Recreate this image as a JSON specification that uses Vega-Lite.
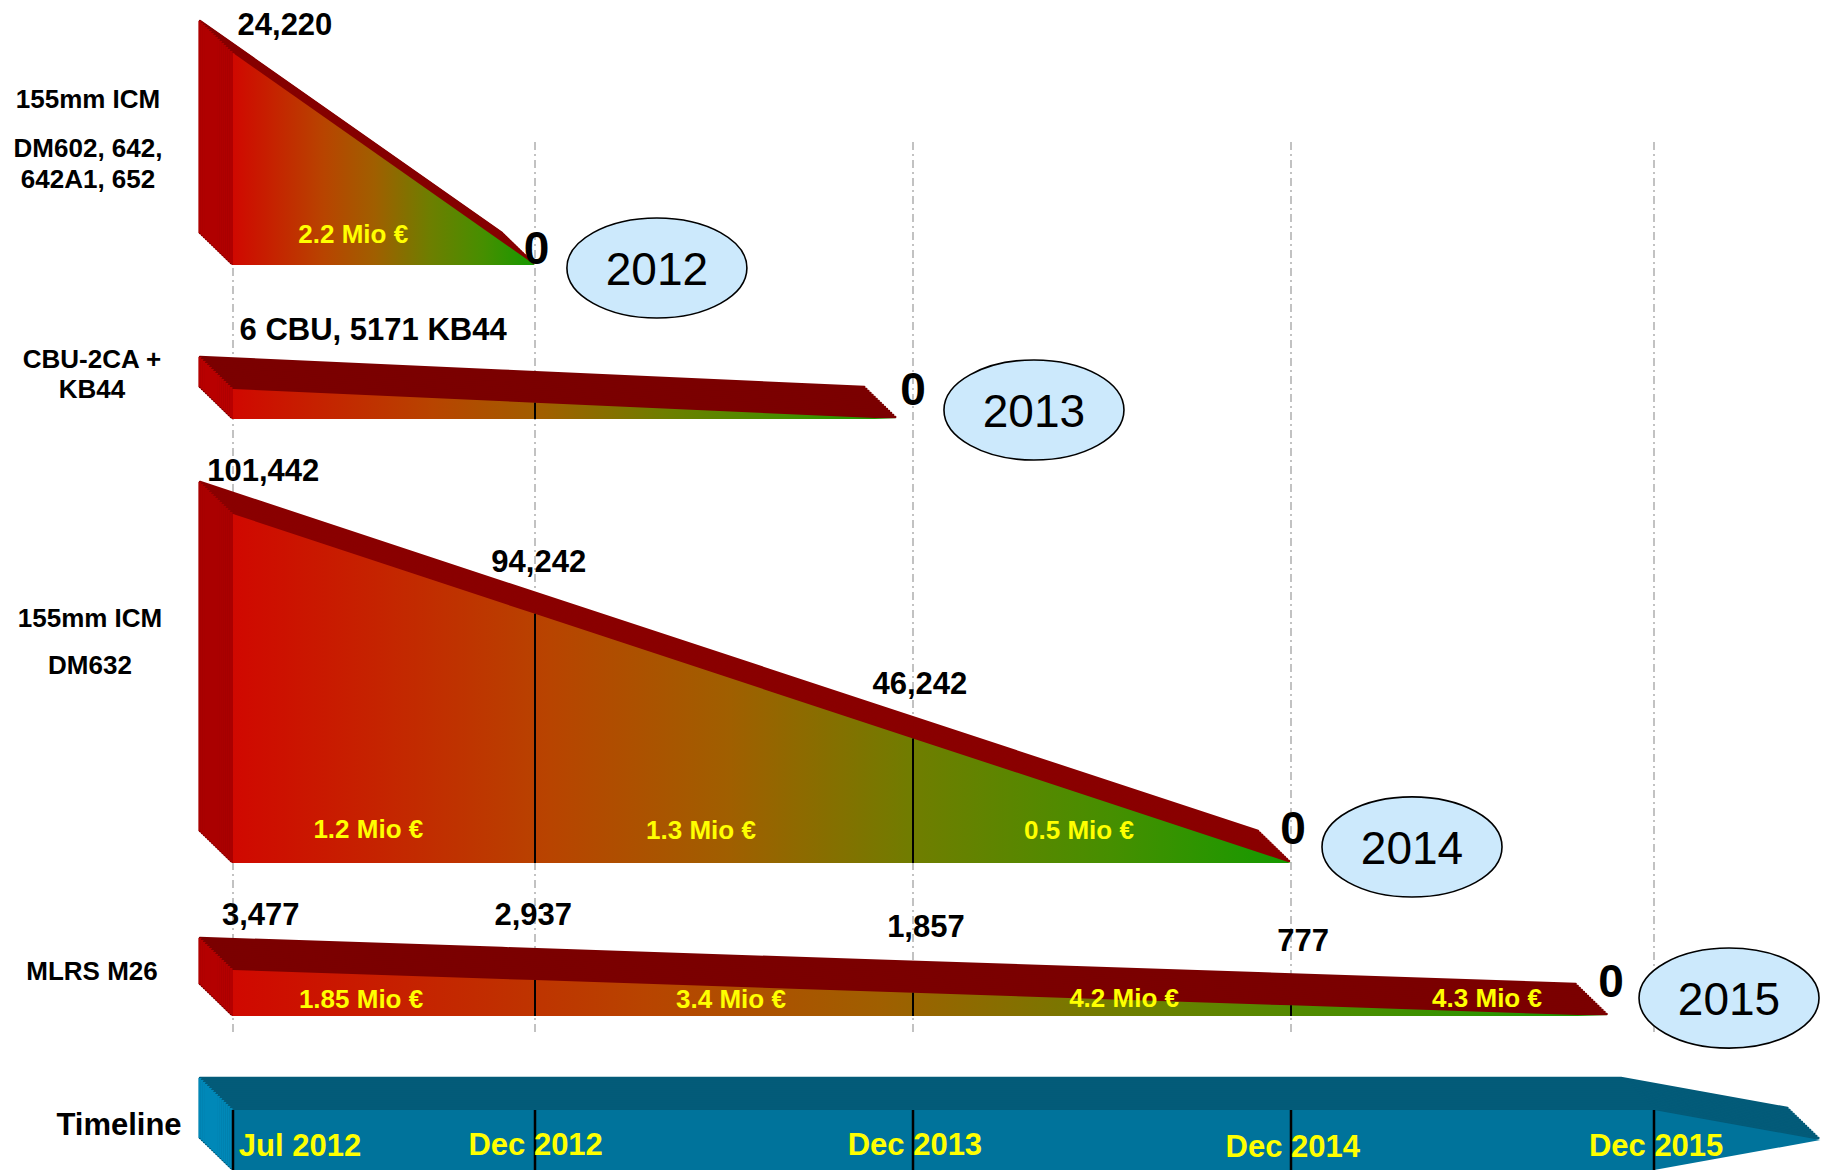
{
"$schema":"https://vega.github.io/schema/vega-lite/v6.json",
"width":1825,"height":1175,"autosize":{"type":"none"},"padding":0,"background":"white",
"config":{"view":{"stroke":null}},
"datasets":{
"guides":[{"month":0},{"month":5},{"month":17},{"month":29},{"month":41}],
"shapes":[
{"panel":"p1","month":0,"level":1,"low":0},{"panel":"p1","month":5,"level":0,"low":0},
{"panel":"p2","month":0,"level":1,"low":0},{"panel":"p2","month":5,"level":0.545,"low":0},{"panel":"p2","month":16.5,"level":0,"low":0},
{"panel":"p3","month":0,"level":1,"low":0},{"panel":"p3","month":5,"level":0.714,"low":0},{"panel":"p3","month":17,"level":0.357,"low":0},{"panel":"p3","month":29,"level":0,"low":0},
{"panel":"p4","month":0,"level":1,"low":0},{"panel":"p4","month":5,"level":0.78,"low":0},{"panel":"p4","month":17,"level":0.505,"low":0},{"panel":"p4","month":29,"level":0.231,"low":0},{"panel":"p4","month":39.5,"level":0,"low":0},
{"panel":"tl","month":0,"level":1,"low":0},{"panel":"tl","month":5,"level":1,"low":0},{"panel":"tl","month":17,"level":1,"low":0},{"panel":"tl","month":29,"level":1,"low":0},{"panel":"tl","month":41,"level":1,"low":0},{"panel":"tl","month":46.5,"level":0.5,"low":0.5}
],
"notes":[
{"panel":"p1","kind":"stock","month":0.86,"level":1.142,"label":"24,220"},
{"panel":"p1","kind":"zero","month":5.05,"level":0.085,"label":"0"},
{"panel":"p1","kind":"money","month":1.99,"level":0.151,"label":"2.2 Mio €"},
{"panel":"p1","kind":"year","month":8.87,"level":-0.014,"label":"2012"},
{"panel":"p1","kind":"name","month":0,"level":0.788,"label":"155mm ICM"},
{"panel":"p1","kind":"name","month":0,"level":0.557,"label":"DM602, 642,"},
{"panel":"p1","kind":"name","month":0,"level":0.41,"label":"642A1, 652"},
{"panel":"p2","kind":"stock","month":2.32,"level":3.03,"label":"6 CBU, 5171 KB44"},
{"panel":"p2","kind":"zero","month":17.0,"level":1.03,"label":"0"},
{"panel":"p2","kind":"year","month":20.84,"level":0.3,"label":"2013"},
{"panel":"p2","kind":"name","month":0,"level":2.03,"label":"CBU-2CA +"},
{"panel":"p2","kind":"name","month":0,"level":1.03,"label":"KB44"},
{"panel":"p3","kind":"stock","month":0.5,"level":1.129,"label":"101,442"},
{"panel":"p3","kind":"stock","month":5.12,"level":0.868,"label":"94,242"},
{"panel":"p3","kind":"stock","month":17.22,"level":0.519,"label":"46,242"},
{"panel":"p3","kind":"zero","month":29.07,"level":0.103,"label":"0"},
{"panel":"p3","kind":"year","month":33.0,"level":0.046,"label":"2014"},
{"panel":"p3","kind":"money","month":2.24,"level":0.1,"label":"1.2 Mio €"},
{"panel":"p3","kind":"money","month":10.27,"level":0.097,"label":"1.3 Mio €"},
{"panel":"p3","kind":"money","month":22.27,"level":0.097,"label":"0.5 Mio €"},
{"panel":"p3","kind":"name","month":0,"level":0.705,"label":"155mm ICM"},
{"panel":"p3","kind":"name","month":0,"level":0.57,"label":"DM632"},
{"panel":"p4","kind":"stock","month":0.46,"level":2.24,"label":"3,477"},
{"panel":"p4","kind":"stock","month":4.97,"level":2.24,"label":"2,937"},
{"panel":"p4","kind":"stock","month":17.41,"level":1.98,"label":"1,857"},
{"panel":"p4","kind":"stock","month":29.4,"level":1.67,"label":"777"},
{"panel":"p4","kind":"zero","month":39.58,"level":0.78,"label":"0"},
{"panel":"p4","kind":"year","month":43.48,"level":0.39,"label":"2015"},
{"panel":"p4","kind":"money","month":2.12,"level":0.39,"label":"1.85 Mio €"},
{"panel":"p4","kind":"money","month":11.22,"level":0.39,"label":"3.4 Mio €"},
{"panel":"p4","kind":"money","month":23.7,"level":0.41,"label":"4.2 Mio €"},
{"panel":"p4","kind":"money","month":35.48,"level":0.41,"label":"4.3 Mio €"},
{"panel":"p4","kind":"name","month":0,"level":1.0,"label":"MLRS M26"},
{"panel":"tl","kind":"tname","month":0,"level":0.78,"label":"Timeline"},
{"panel":"tl","kind":"date","month":1.11,"level":0.43,"label":"Jul 2012"},
{"panel":"tl","kind":"date","month":5.02,"level":0.45,"label":"Dec 2012"},
{"panel":"tl","kind":"date","month":17.06,"level":0.45,"label":"Dec 2013"},
{"panel":"tl","kind":"date","month":29.06,"level":0.41,"label":"Dec 2014"},
{"panel":"tl","kind":"date","month":41.07,"level":0.43,"label":"Dec 2015"}
]
},
"encoding":{"x":{"field":"month","type":"quantitative","scale":{"type":"linear","domain":[0,5,17,29,41],"range":[233,535,913,1291,1654],"nice":false,"zero":false},"axis":null}},
"resolve":{"scale":{"y":"independent"}},
"layer":[
{"data":{"name":"guides"},
 "mark":{"type":"rule","color":"#9a9a9a","strokeWidth":1.2,"strokeDash":[8,4,2,4]},
 "encoding":{"y":{"datum":1,"type":"quantitative","scale":{"domain":[0,1],"range":[1032,142]},"axis":null},"y2":{"datum":0}}},

{"encoding":{"y":{"field":"level","type":"quantitative","scale":{"domain":[0,1],"range":[265,53]},"axis":null}},
 "layer":[
 {"data":{"name":"shapes"},"transform":[{"filter":"datum.panel == 'p1'"}],"encoding":{"y2":{"field":"low"}},
  "layer":[
  {"mark":{"type":"area","color":"#860000","stroke":"#860000","strokeWidth":2.5,"strokeJoin":"round","xOffset":-33,"yOffset":-32,"y2Offset":-32}},
  {"transform":[{"filter":"datum.month == 0"}],"mark":{"type":"rule","color":"#b00000","strokeWidth":3,"xOffset":-33,"yOffset":-32,"y2Offset":-32}},
  {"mark":{"type":"area","color":"#860000","stroke":"#860000","strokeWidth":2.5,"strokeJoin":"round","xOffset":-30.94,"yOffset":-30,"y2Offset":-30}},
  {"transform":[{"filter":"datum.month == 0"}],"mark":{"type":"rule","color":"#b00000","strokeWidth":3,"xOffset":-30.94,"yOffset":-30,"y2Offset":-30}},
  {"mark":{"type":"area","color":"#860000","stroke":"#860000","strokeWidth":2.5,"strokeJoin":"round","xOffset":-28.88,"yOffset":-28,"y2Offset":-28}},
  {"transform":[{"filter":"datum.month == 0"}],"mark":{"type":"rule","color":"#b00000","strokeWidth":3,"xOffset":-28.88,"yOffset":-28,"y2Offset":-28}},
  {"mark":{"type":"area","color":"#860000","stroke":"#860000","strokeWidth":2.5,"strokeJoin":"round","xOffset":-26.81,"yOffset":-26,"y2Offset":-26}},
  {"transform":[{"filter":"datum.month == 0"}],"mark":{"type":"rule","color":"#b00000","strokeWidth":3,"xOffset":-26.81,"yOffset":-26,"y2Offset":-26}},
  {"mark":{"type":"area","color":"#860000","stroke":"#860000","strokeWidth":2.5,"strokeJoin":"round","xOffset":-24.75,"yOffset":-24,"y2Offset":-24}},
  {"transform":[{"filter":"datum.month == 0"}],"mark":{"type":"rule","color":"#b00000","strokeWidth":3,"xOffset":-24.75,"yOffset":-24,"y2Offset":-24}},
  {"mark":{"type":"area","color":"#860000","stroke":"#860000","strokeWidth":2.5,"strokeJoin":"round","xOffset":-22.69,"yOffset":-22,"y2Offset":-22}},
  {"transform":[{"filter":"datum.month == 0"}],"mark":{"type":"rule","color":"#b00000","strokeWidth":3,"xOffset":-22.69,"yOffset":-22,"y2Offset":-22}},
  {"mark":{"type":"area","color":"#860000","stroke":"#860000","strokeWidth":2.5,"strokeJoin":"round","xOffset":-20.63,"yOffset":-20,"y2Offset":-20}},
  {"transform":[{"filter":"datum.month == 0"}],"mark":{"type":"rule","color":"#b00000","strokeWidth":3,"xOffset":-20.63,"yOffset":-20,"y2Offset":-20}},
  {"mark":{"type":"area","color":"#860000","stroke":"#860000","strokeWidth":2.5,"strokeJoin":"round","xOffset":-18.56,"yOffset":-18,"y2Offset":-18}},
  {"transform":[{"filter":"datum.month == 0"}],"mark":{"type":"rule","color":"#b00000","strokeWidth":3,"xOffset":-18.56,"yOffset":-18,"y2Offset":-18}},
  {"mark":{"type":"area","color":"#860000","stroke":"#860000","strokeWidth":2.5,"strokeJoin":"round","xOffset":-16.5,"yOffset":-16,"y2Offset":-16}},
  {"transform":[{"filter":"datum.month == 0"}],"mark":{"type":"rule","color":"#b00000","strokeWidth":3,"xOffset":-16.5,"yOffset":-16,"y2Offset":-16}},
  {"mark":{"type":"area","color":"#860000","stroke":"#860000","strokeWidth":2.5,"strokeJoin":"round","xOffset":-14.44,"yOffset":-14,"y2Offset":-14}},
  {"transform":[{"filter":"datum.month == 0"}],"mark":{"type":"rule","color":"#b00000","strokeWidth":3,"xOffset":-14.44,"yOffset":-14,"y2Offset":-14}},
  {"mark":{"type":"area","color":"#860000","stroke":"#860000","strokeWidth":2.5,"strokeJoin":"round","xOffset":-12.38,"yOffset":-12,"y2Offset":-12}},
  {"transform":[{"filter":"datum.month == 0"}],"mark":{"type":"rule","color":"#b00000","strokeWidth":3,"xOffset":-12.38,"yOffset":-12,"y2Offset":-12}},
  {"mark":{"type":"area","color":"#860000","stroke":"#860000","strokeWidth":2.5,"strokeJoin":"round","xOffset":-10.31,"yOffset":-10,"y2Offset":-10}},
  {"transform":[{"filter":"datum.month == 0"}],"mark":{"type":"rule","color":"#b00000","strokeWidth":3,"xOffset":-10.31,"yOffset":-10,"y2Offset":-10}},
  {"mark":{"type":"area","color":"#860000","stroke":"#860000","strokeWidth":2.5,"strokeJoin":"round","xOffset":-8.25,"yOffset":-8,"y2Offset":-8}},
  {"transform":[{"filter":"datum.month == 0"}],"mark":{"type":"rule","color":"#b00000","strokeWidth":3,"xOffset":-8.25,"yOffset":-8,"y2Offset":-8}},
  {"mark":{"type":"area","color":"#860000","stroke":"#860000","strokeWidth":2.5,"strokeJoin":"round","xOffset":-6.19,"yOffset":-6,"y2Offset":-6}},
  {"transform":[{"filter":"datum.month == 0"}],"mark":{"type":"rule","color":"#b00000","strokeWidth":3,"xOffset":-6.19,"yOffset":-6,"y2Offset":-6}},
  {"mark":{"type":"area","color":"#860000","stroke":"#860000","strokeWidth":2.5,"strokeJoin":"round","xOffset":-4.13,"yOffset":-4,"y2Offset":-4}},
  {"transform":[{"filter":"datum.month == 0"}],"mark":{"type":"rule","color":"#b00000","strokeWidth":3,"xOffset":-4.13,"yOffset":-4,"y2Offset":-4}},
  {"mark":{"type":"area","color":"#860000","stroke":"#860000","strokeWidth":2.5,"strokeJoin":"round","xOffset":-2.06,"yOffset":-2,"y2Offset":-2}},
  {"transform":[{"filter":"datum.month == 0"}],"mark":{"type":"rule","color":"#b00000","strokeWidth":3,"xOffset":-2.06,"yOffset":-2,"y2Offset":-2}},
  {"transform":[{"filter":"datum.month == 0"}],"mark":{"type":"rule","color":"#b00000","strokeWidth":3}},
  {"mark":{"type":"area","color":{"gradient":"linear","x1":0,"y1":0,"x2":1,"y2":0,"stops":[{"offset":0,"color":"#d00800"},{"offset":0.3,"color":"#b84400"},{"offset":0.47,"color":"#a05f00"},{"offset":0.65,"color":"#6e7e00"},{"offset":0.83,"color":"#468f00"},{"offset":1,"color":"#149a00"}]}}},
  {"transform":[{"filter":"datum.level > datum.low && (datum.month > 0 || datum.panel == 'tl')"}],"mark":{"type":"rule","color":"black","strokeWidth":2}}
  ]},
 {"data":{"name":"notes"},"transform":[{"filter":"datum.panel == 'p1'"}],
  "layer":[
  {"transform":[{"filter":"datum.kind == 'stock'"}],"mark":{"type":"text","font":"Liberation Sans","fontWeight":"bold","fontSize":31,"color":"black","dy":3},"encoding":{"text":{"field":"label"}}},
  {"transform":[{"filter":"datum.kind == 'zero'"}],"mark":{"type":"text","font":"Liberation Sans","fontWeight":"bold","fontSize":46,"color":"black","dy":3},"encoding":{"text":{"field":"label"}}},
  {"transform":[{"filter":"datum.kind == 'money'"}],"mark":{"type":"text","font":"Liberation Sans","fontWeight":"bold","fontSize":26,"color":"#ffff00","dy":2},"encoding":{"text":{"field":"label"}}},
  {"transform":[{"filter":"datum.kind == 'year'"}],"mark":{"type":"point","shape":"M-1,0A1,0.556,0,1,1,1,0A1,0.556,0,1,1,-1,0Z","size":32400,"filled":true,"fill":"#cce9fc","stroke":"black","strokeWidth":1.6,"opacity":1}},
  {"transform":[{"filter":"datum.kind == 'year'"}],"mark":{"type":"text","font":"Liberation Sans","fontSize":46,"color":"black","dy":3},"encoding":{"text":{"field":"label"}}},
  {"transform":[{"filter":"datum.kind == 'name'"}],"mark":{"type":"text","font":"Liberation Sans","fontWeight":"bold","fontSize":26,"color":"black","dx":-145,"dy":2},"encoding":{"text":{"field":"label"}}}
  ]}
 ]},

{"encoding":{"y":{"field":"level","type":"quantitative","scale":{"domain":[0,1],"range":[419,389]},"axis":null}},
 "layer":[
 {"data":{"name":"shapes"},"transform":[{"filter":"datum.panel == 'p2'"}],"encoding":{"y2":{"field":"low"}},
  "layer":[
  {"mark":{"type":"area","color":"#7b0000","stroke":"#7b0000","strokeWidth":2.5,"strokeJoin":"round","xOffset":-33,"yOffset":-32,"y2Offset":-32}},
  {"transform":[{"filter":"datum.month == 0"}],"mark":{"type":"rule","color":"#b80000","strokeWidth":3,"xOffset":-33,"yOffset":-32,"y2Offset":-32}},
  {"mark":{"type":"area","color":"#7b0000","stroke":"#7b0000","strokeWidth":2.5,"strokeJoin":"round","xOffset":-30.94,"yOffset":-30,"y2Offset":-30}},
  {"transform":[{"filter":"datum.month == 0"}],"mark":{"type":"rule","color":"#b80000","strokeWidth":3,"xOffset":-30.94,"yOffset":-30,"y2Offset":-30}},
  {"mark":{"type":"area","color":"#7b0000","stroke":"#7b0000","strokeWidth":2.5,"strokeJoin":"round","xOffset":-28.88,"yOffset":-28,"y2Offset":-28}},
  {"transform":[{"filter":"datum.month == 0"}],"mark":{"type":"rule","color":"#b80000","strokeWidth":3,"xOffset":-28.88,"yOffset":-28,"y2Offset":-28}},
  {"mark":{"type":"area","color":"#7b0000","stroke":"#7b0000","strokeWidth":2.5,"strokeJoin":"round","xOffset":-26.81,"yOffset":-26,"y2Offset":-26}},
  {"transform":[{"filter":"datum.month == 0"}],"mark":{"type":"rule","color":"#b80000","strokeWidth":3,"xOffset":-26.81,"yOffset":-26,"y2Offset":-26}},
  {"mark":{"type":"area","color":"#7b0000","stroke":"#7b0000","strokeWidth":2.5,"strokeJoin":"round","xOffset":-24.75,"yOffset":-24,"y2Offset":-24}},
  {"transform":[{"filter":"datum.month == 0"}],"mark":{"type":"rule","color":"#b80000","strokeWidth":3,"xOffset":-24.75,"yOffset":-24,"y2Offset":-24}},
  {"mark":{"type":"area","color":"#7b0000","stroke":"#7b0000","strokeWidth":2.5,"strokeJoin":"round","xOffset":-22.69,"yOffset":-22,"y2Offset":-22}},
  {"transform":[{"filter":"datum.month == 0"}],"mark":{"type":"rule","color":"#b80000","strokeWidth":3,"xOffset":-22.69,"yOffset":-22,"y2Offset":-22}},
  {"mark":{"type":"area","color":"#7b0000","stroke":"#7b0000","strokeWidth":2.5,"strokeJoin":"round","xOffset":-20.63,"yOffset":-20,"y2Offset":-20}},
  {"transform":[{"filter":"datum.month == 0"}],"mark":{"type":"rule","color":"#b80000","strokeWidth":3,"xOffset":-20.63,"yOffset":-20,"y2Offset":-20}},
  {"mark":{"type":"area","color":"#7b0000","stroke":"#7b0000","strokeWidth":2.5,"strokeJoin":"round","xOffset":-18.56,"yOffset":-18,"y2Offset":-18}},
  {"transform":[{"filter":"datum.month == 0"}],"mark":{"type":"rule","color":"#b80000","strokeWidth":3,"xOffset":-18.56,"yOffset":-18,"y2Offset":-18}},
  {"mark":{"type":"area","color":"#7b0000","stroke":"#7b0000","strokeWidth":2.5,"strokeJoin":"round","xOffset":-16.5,"yOffset":-16,"y2Offset":-16}},
  {"transform":[{"filter":"datum.month == 0"}],"mark":{"type":"rule","color":"#b80000","strokeWidth":3,"xOffset":-16.5,"yOffset":-16,"y2Offset":-16}},
  {"mark":{"type":"area","color":"#7b0000","stroke":"#7b0000","strokeWidth":2.5,"strokeJoin":"round","xOffset":-14.44,"yOffset":-14,"y2Offset":-14}},
  {"transform":[{"filter":"datum.month == 0"}],"mark":{"type":"rule","color":"#b80000","strokeWidth":3,"xOffset":-14.44,"yOffset":-14,"y2Offset":-14}},
  {"mark":{"type":"area","color":"#7b0000","stroke":"#7b0000","strokeWidth":2.5,"strokeJoin":"round","xOffset":-12.38,"yOffset":-12,"y2Offset":-12}},
  {"transform":[{"filter":"datum.month == 0"}],"mark":{"type":"rule","color":"#b80000","strokeWidth":3,"xOffset":-12.38,"yOffset":-12,"y2Offset":-12}},
  {"mark":{"type":"area","color":"#7b0000","stroke":"#7b0000","strokeWidth":2.5,"strokeJoin":"round","xOffset":-10.31,"yOffset":-10,"y2Offset":-10}},
  {"transform":[{"filter":"datum.month == 0"}],"mark":{"type":"rule","color":"#b80000","strokeWidth":3,"xOffset":-10.31,"yOffset":-10,"y2Offset":-10}},
  {"mark":{"type":"area","color":"#7b0000","stroke":"#7b0000","strokeWidth":2.5,"strokeJoin":"round","xOffset":-8.25,"yOffset":-8,"y2Offset":-8}},
  {"transform":[{"filter":"datum.month == 0"}],"mark":{"type":"rule","color":"#b80000","strokeWidth":3,"xOffset":-8.25,"yOffset":-8,"y2Offset":-8}},
  {"mark":{"type":"area","color":"#7b0000","stroke":"#7b0000","strokeWidth":2.5,"strokeJoin":"round","xOffset":-6.19,"yOffset":-6,"y2Offset":-6}},
  {"transform":[{"filter":"datum.month == 0"}],"mark":{"type":"rule","color":"#b80000","strokeWidth":3,"xOffset":-6.19,"yOffset":-6,"y2Offset":-6}},
  {"mark":{"type":"area","color":"#7b0000","stroke":"#7b0000","strokeWidth":2.5,"strokeJoin":"round","xOffset":-4.13,"yOffset":-4,"y2Offset":-4}},
  {"transform":[{"filter":"datum.month == 0"}],"mark":{"type":"rule","color":"#b80000","strokeWidth":3,"xOffset":-4.13,"yOffset":-4,"y2Offset":-4}},
  {"mark":{"type":"area","color":"#7b0000","stroke":"#7b0000","strokeWidth":2.5,"strokeJoin":"round","xOffset":-2.06,"yOffset":-2,"y2Offset":-2}},
  {"transform":[{"filter":"datum.month == 0"}],"mark":{"type":"rule","color":"#b80000","strokeWidth":3,"xOffset":-2.06,"yOffset":-2,"y2Offset":-2}},
  {"transform":[{"filter":"datum.month == 0"}],"mark":{"type":"rule","color":"#b80000","strokeWidth":3}},
  {"mark":{"type":"area","color":{"gradient":"linear","x1":0,"y1":0,"x2":1,"y2":0,"stops":[{"offset":0,"color":"#d00800"},{"offset":0.3,"color":"#b84400"},{"offset":0.47,"color":"#a05f00"},{"offset":0.65,"color":"#6e7e00"},{"offset":0.83,"color":"#468f00"},{"offset":1,"color":"#149a00"}]}}},
  {"transform":[{"filter":"datum.level > datum.low && (datum.month > 0 || datum.panel == 'tl')"}],"mark":{"type":"rule","color":"black","strokeWidth":2}}
  ]},
 {"data":{"name":"notes"},"transform":[{"filter":"datum.panel == 'p2'"}],
  "layer":[
  {"transform":[{"filter":"datum.kind == 'stock'"}],"mark":{"type":"text","font":"Liberation Sans","fontWeight":"bold","fontSize":31,"color":"black","dy":3},"encoding":{"text":{"field":"label"}}},
  {"transform":[{"filter":"datum.kind == 'zero'"}],"mark":{"type":"text","font":"Liberation Sans","fontWeight":"bold","fontSize":46,"color":"black","dy":3},"encoding":{"text":{"field":"label"}}},
  {"transform":[{"filter":"datum.kind == 'year'"}],"mark":{"type":"point","shape":"M-1,0A1,0.556,0,1,1,1,0A1,0.556,0,1,1,-1,0Z","size":32400,"filled":true,"fill":"#cce9fc","stroke":"black","strokeWidth":1.6,"opacity":1}},
  {"transform":[{"filter":"datum.kind == 'year'"}],"mark":{"type":"text","font":"Liberation Sans","fontSize":46,"color":"black","dy":3},"encoding":{"text":{"field":"label"}}},
  {"transform":[{"filter":"datum.kind == 'name'"}],"mark":{"type":"text","font":"Liberation Sans","fontWeight":"bold","fontSize":26,"color":"black","dx":-141,"dy":2},"encoding":{"text":{"field":"label"}}}
  ]}
 ]},

{"encoding":{"y":{"field":"level","type":"quantitative","scale":{"domain":[0,1],"range":[863,514]},"axis":null}},
 "layer":[
 {"data":{"name":"shapes"},"transform":[{"filter":"datum.panel == 'p3'"}],"encoding":{"y2":{"field":"low"}},
  "layer":[
  {"mark":{"type":"area","color":"#8a0000","stroke":"#8a0000","strokeWidth":2.5,"strokeJoin":"round","xOffset":-33,"yOffset":-32,"y2Offset":-32}},
  {"transform":[{"filter":"datum.month == 0"}],"mark":{"type":"rule","color":"#aa0000","strokeWidth":3,"xOffset":-33,"yOffset":-32,"y2Offset":-32}},
  {"mark":{"type":"area","color":"#8a0000","stroke":"#8a0000","strokeWidth":2.5,"strokeJoin":"round","xOffset":-30.94,"yOffset":-30,"y2Offset":-30}},
  {"transform":[{"filter":"datum.month == 0"}],"mark":{"type":"rule","color":"#aa0000","strokeWidth":3,"xOffset":-30.94,"yOffset":-30,"y2Offset":-30}},
  {"mark":{"type":"area","color":"#8a0000","stroke":"#8a0000","strokeWidth":2.5,"strokeJoin":"round","xOffset":-28.88,"yOffset":-28,"y2Offset":-28}},
  {"transform":[{"filter":"datum.month == 0"}],"mark":{"type":"rule","color":"#aa0000","strokeWidth":3,"xOffset":-28.88,"yOffset":-28,"y2Offset":-28}},
  {"mark":{"type":"area","color":"#8a0000","stroke":"#8a0000","strokeWidth":2.5,"strokeJoin":"round","xOffset":-26.81,"yOffset":-26,"y2Offset":-26}},
  {"transform":[{"filter":"datum.month == 0"}],"mark":{"type":"rule","color":"#aa0000","strokeWidth":3,"xOffset":-26.81,"yOffset":-26,"y2Offset":-26}},
  {"mark":{"type":"area","color":"#8a0000","stroke":"#8a0000","strokeWidth":2.5,"strokeJoin":"round","xOffset":-24.75,"yOffset":-24,"y2Offset":-24}},
  {"transform":[{"filter":"datum.month == 0"}],"mark":{"type":"rule","color":"#aa0000","strokeWidth":3,"xOffset":-24.75,"yOffset":-24,"y2Offset":-24}},
  {"mark":{"type":"area","color":"#8a0000","stroke":"#8a0000","strokeWidth":2.5,"strokeJoin":"round","xOffset":-22.69,"yOffset":-22,"y2Offset":-22}},
  {"transform":[{"filter":"datum.month == 0"}],"mark":{"type":"rule","color":"#aa0000","strokeWidth":3,"xOffset":-22.69,"yOffset":-22,"y2Offset":-22}},
  {"mark":{"type":"area","color":"#8a0000","stroke":"#8a0000","strokeWidth":2.5,"strokeJoin":"round","xOffset":-20.63,"yOffset":-20,"y2Offset":-20}},
  {"transform":[{"filter":"datum.month == 0"}],"mark":{"type":"rule","color":"#aa0000","strokeWidth":3,"xOffset":-20.63,"yOffset":-20,"y2Offset":-20}},
  {"mark":{"type":"area","color":"#8a0000","stroke":"#8a0000","strokeWidth":2.5,"strokeJoin":"round","xOffset":-18.56,"yOffset":-18,"y2Offset":-18}},
  {"transform":[{"filter":"datum.month == 0"}],"mark":{"type":"rule","color":"#aa0000","strokeWidth":3,"xOffset":-18.56,"yOffset":-18,"y2Offset":-18}},
  {"mark":{"type":"area","color":"#8a0000","stroke":"#8a0000","strokeWidth":2.5,"strokeJoin":"round","xOffset":-16.5,"yOffset":-16,"y2Offset":-16}},
  {"transform":[{"filter":"datum.month == 0"}],"mark":{"type":"rule","color":"#aa0000","strokeWidth":3,"xOffset":-16.5,"yOffset":-16,"y2Offset":-16}},
  {"mark":{"type":"area","color":"#8a0000","stroke":"#8a0000","strokeWidth":2.5,"strokeJoin":"round","xOffset":-14.44,"yOffset":-14,"y2Offset":-14}},
  {"transform":[{"filter":"datum.month == 0"}],"mark":{"type":"rule","color":"#aa0000","strokeWidth":3,"xOffset":-14.44,"yOffset":-14,"y2Offset":-14}},
  {"mark":{"type":"area","color":"#8a0000","stroke":"#8a0000","strokeWidth":2.5,"strokeJoin":"round","xOffset":-12.38,"yOffset":-12,"y2Offset":-12}},
  {"transform":[{"filter":"datum.month == 0"}],"mark":{"type":"rule","color":"#aa0000","strokeWidth":3,"xOffset":-12.38,"yOffset":-12,"y2Offset":-12}},
  {"mark":{"type":"area","color":"#8a0000","stroke":"#8a0000","strokeWidth":2.5,"strokeJoin":"round","xOffset":-10.31,"yOffset":-10,"y2Offset":-10}},
  {"transform":[{"filter":"datum.month == 0"}],"mark":{"type":"rule","color":"#aa0000","strokeWidth":3,"xOffset":-10.31,"yOffset":-10,"y2Offset":-10}},
  {"mark":{"type":"area","color":"#8a0000","stroke":"#8a0000","strokeWidth":2.5,"strokeJoin":"round","xOffset":-8.25,"yOffset":-8,"y2Offset":-8}},
  {"transform":[{"filter":"datum.month == 0"}],"mark":{"type":"rule","color":"#aa0000","strokeWidth":3,"xOffset":-8.25,"yOffset":-8,"y2Offset":-8}},
  {"mark":{"type":"area","color":"#8a0000","stroke":"#8a0000","strokeWidth":2.5,"strokeJoin":"round","xOffset":-6.19,"yOffset":-6,"y2Offset":-6}},
  {"transform":[{"filter":"datum.month == 0"}],"mark":{"type":"rule","color":"#aa0000","strokeWidth":3,"xOffset":-6.19,"yOffset":-6,"y2Offset":-6}},
  {"mark":{"type":"area","color":"#8a0000","stroke":"#8a0000","strokeWidth":2.5,"strokeJoin":"round","xOffset":-4.13,"yOffset":-4,"y2Offset":-4}},
  {"transform":[{"filter":"datum.month == 0"}],"mark":{"type":"rule","color":"#aa0000","strokeWidth":3,"xOffset":-4.13,"yOffset":-4,"y2Offset":-4}},
  {"mark":{"type":"area","color":"#8a0000","stroke":"#8a0000","strokeWidth":2.5,"strokeJoin":"round","xOffset":-2.06,"yOffset":-2,"y2Offset":-2}},
  {"transform":[{"filter":"datum.month == 0"}],"mark":{"type":"rule","color":"#aa0000","strokeWidth":3,"xOffset":-2.06,"yOffset":-2,"y2Offset":-2}},
  {"transform":[{"filter":"datum.month == 0"}],"mark":{"type":"rule","color":"#aa0000","strokeWidth":3}},
  {"mark":{"type":"area","color":{"gradient":"linear","x1":0,"y1":0,"x2":1,"y2":0,"stops":[{"offset":0,"color":"#d00800"},{"offset":0.3,"color":"#b84400"},{"offset":0.47,"color":"#a05f00"},{"offset":0.65,"color":"#6e7e00"},{"offset":0.83,"color":"#468f00"},{"offset":1,"color":"#149a00"}]}}},
  {"transform":[{"filter":"datum.level > datum.low && (datum.month > 0 || datum.panel == 'tl')"}],"mark":{"type":"rule","color":"black","strokeWidth":2}}
  ]},
 {"data":{"name":"notes"},"transform":[{"filter":"datum.panel == 'p3'"}],
  "layer":[
  {"transform":[{"filter":"datum.kind == 'stock'"}],"mark":{"type":"text","font":"Liberation Sans","fontWeight":"bold","fontSize":31,"color":"black","dy":3},"encoding":{"text":{"field":"label"}}},
  {"transform":[{"filter":"datum.kind == 'zero'"}],"mark":{"type":"text","font":"Liberation Sans","fontWeight":"bold","fontSize":46,"color":"black","dy":3},"encoding":{"text":{"field":"label"}}},
  {"transform":[{"filter":"datum.kind == 'money'"}],"mark":{"type":"text","font":"Liberation Sans","fontWeight":"bold","fontSize":26,"color":"#ffff00","dy":2},"encoding":{"text":{"field":"label"}}},
  {"transform":[{"filter":"datum.kind == 'year'"}],"mark":{"type":"point","shape":"M-1,0A1,0.556,0,1,1,1,0A1,0.556,0,1,1,-1,0Z","size":32400,"filled":true,"fill":"#cce9fc","stroke":"black","strokeWidth":1.6,"opacity":1}},
  {"transform":[{"filter":"datum.kind == 'year'"}],"mark":{"type":"text","font":"Liberation Sans","fontSize":46,"color":"black","dy":3},"encoding":{"text":{"field":"label"}}},
  {"transform":[{"filter":"datum.kind == 'name'"}],"mark":{"type":"text","font":"Liberation Sans","fontWeight":"bold","fontSize":26,"color":"black","dx":-143,"dy":2},"encoding":{"text":{"field":"label"}}}
  ]}
 ]},

{"encoding":{"y":{"field":"level","type":"quantitative","scale":{"domain":[0,1],"range":[1016,970]},"axis":null}},
 "layer":[
 {"data":{"name":"shapes"},"transform":[{"filter":"datum.panel == 'p4'"}],"encoding":{"y2":{"field":"low"}},
  "layer":[
  {"mark":{"type":"area","color":"#7b0000","stroke":"#7b0000","strokeWidth":2.5,"strokeJoin":"round","xOffset":-33,"yOffset":-32,"y2Offset":-32}},
  {"transform":[{"filter":"datum.month == 0"}],"mark":{"type":"rule","color":"#b40000","strokeWidth":3,"xOffset":-33,"yOffset":-32,"y2Offset":-32}},
  {"mark":{"type":"area","color":"#7b0000","stroke":"#7b0000","strokeWidth":2.5,"strokeJoin":"round","xOffset":-30.94,"yOffset":-30,"y2Offset":-30}},
  {"transform":[{"filter":"datum.month == 0"}],"mark":{"type":"rule","color":"#b40000","strokeWidth":3,"xOffset":-30.94,"yOffset":-30,"y2Offset":-30}},
  {"mark":{"type":"area","color":"#7b0000","stroke":"#7b0000","strokeWidth":2.5,"strokeJoin":"round","xOffset":-28.88,"yOffset":-28,"y2Offset":-28}},
  {"transform":[{"filter":"datum.month == 0"}],"mark":{"type":"rule","color":"#b40000","strokeWidth":3,"xOffset":-28.88,"yOffset":-28,"y2Offset":-28}},
  {"mark":{"type":"area","color":"#7b0000","stroke":"#7b0000","strokeWidth":2.5,"strokeJoin":"round","xOffset":-26.81,"yOffset":-26,"y2Offset":-26}},
  {"transform":[{"filter":"datum.month == 0"}],"mark":{"type":"rule","color":"#b40000","strokeWidth":3,"xOffset":-26.81,"yOffset":-26,"y2Offset":-26}},
  {"mark":{"type":"area","color":"#7b0000","stroke":"#7b0000","strokeWidth":2.5,"strokeJoin":"round","xOffset":-24.75,"yOffset":-24,"y2Offset":-24}},
  {"transform":[{"filter":"datum.month == 0"}],"mark":{"type":"rule","color":"#b40000","strokeWidth":3,"xOffset":-24.75,"yOffset":-24,"y2Offset":-24}},
  {"mark":{"type":"area","color":"#7b0000","stroke":"#7b0000","strokeWidth":2.5,"strokeJoin":"round","xOffset":-22.69,"yOffset":-22,"y2Offset":-22}},
  {"transform":[{"filter":"datum.month == 0"}],"mark":{"type":"rule","color":"#b40000","strokeWidth":3,"xOffset":-22.69,"yOffset":-22,"y2Offset":-22}},
  {"mark":{"type":"area","color":"#7b0000","stroke":"#7b0000","strokeWidth":2.5,"strokeJoin":"round","xOffset":-20.63,"yOffset":-20,"y2Offset":-20}},
  {"transform":[{"filter":"datum.month == 0"}],"mark":{"type":"rule","color":"#b40000","strokeWidth":3,"xOffset":-20.63,"yOffset":-20,"y2Offset":-20}},
  {"mark":{"type":"area","color":"#7b0000","stroke":"#7b0000","strokeWidth":2.5,"strokeJoin":"round","xOffset":-18.56,"yOffset":-18,"y2Offset":-18}},
  {"transform":[{"filter":"datum.month == 0"}],"mark":{"type":"rule","color":"#b40000","strokeWidth":3,"xOffset":-18.56,"yOffset":-18,"y2Offset":-18}},
  {"mark":{"type":"area","color":"#7b0000","stroke":"#7b0000","strokeWidth":2.5,"strokeJoin":"round","xOffset":-16.5,"yOffset":-16,"y2Offset":-16}},
  {"transform":[{"filter":"datum.month == 0"}],"mark":{"type":"rule","color":"#b40000","strokeWidth":3,"xOffset":-16.5,"yOffset":-16,"y2Offset":-16}},
  {"mark":{"type":"area","color":"#7b0000","stroke":"#7b0000","strokeWidth":2.5,"strokeJoin":"round","xOffset":-14.44,"yOffset":-14,"y2Offset":-14}},
  {"transform":[{"filter":"datum.month == 0"}],"mark":{"type":"rule","color":"#b40000","strokeWidth":3,"xOffset":-14.44,"yOffset":-14,"y2Offset":-14}},
  {"mark":{"type":"area","color":"#7b0000","stroke":"#7b0000","strokeWidth":2.5,"strokeJoin":"round","xOffset":-12.38,"yOffset":-12,"y2Offset":-12}},
  {"transform":[{"filter":"datum.month == 0"}],"mark":{"type":"rule","color":"#b40000","strokeWidth":3,"xOffset":-12.38,"yOffset":-12,"y2Offset":-12}},
  {"mark":{"type":"area","color":"#7b0000","stroke":"#7b0000","strokeWidth":2.5,"strokeJoin":"round","xOffset":-10.31,"yOffset":-10,"y2Offset":-10}},
  {"transform":[{"filter":"datum.month == 0"}],"mark":{"type":"rule","color":"#b40000","strokeWidth":3,"xOffset":-10.31,"yOffset":-10,"y2Offset":-10}},
  {"mark":{"type":"area","color":"#7b0000","stroke":"#7b0000","strokeWidth":2.5,"strokeJoin":"round","xOffset":-8.25,"yOffset":-8,"y2Offset":-8}},
  {"transform":[{"filter":"datum.month == 0"}],"mark":{"type":"rule","color":"#b40000","strokeWidth":3,"xOffset":-8.25,"yOffset":-8,"y2Offset":-8}},
  {"mark":{"type":"area","color":"#7b0000","stroke":"#7b0000","strokeWidth":2.5,"strokeJoin":"round","xOffset":-6.19,"yOffset":-6,"y2Offset":-6}},
  {"transform":[{"filter":"datum.month == 0"}],"mark":{"type":"rule","color":"#b40000","strokeWidth":3,"xOffset":-6.19,"yOffset":-6,"y2Offset":-6}},
  {"mark":{"type":"area","color":"#7b0000","stroke":"#7b0000","strokeWidth":2.5,"strokeJoin":"round","xOffset":-4.13,"yOffset":-4,"y2Offset":-4}},
  {"transform":[{"filter":"datum.month == 0"}],"mark":{"type":"rule","color":"#b40000","strokeWidth":3,"xOffset":-4.13,"yOffset":-4,"y2Offset":-4}},
  {"mark":{"type":"area","color":"#7b0000","stroke":"#7b0000","strokeWidth":2.5,"strokeJoin":"round","xOffset":-2.06,"yOffset":-2,"y2Offset":-2}},
  {"transform":[{"filter":"datum.month == 0"}],"mark":{"type":"rule","color":"#b40000","strokeWidth":3,"xOffset":-2.06,"yOffset":-2,"y2Offset":-2}},
  {"transform":[{"filter":"datum.month == 0"}],"mark":{"type":"rule","color":"#b40000","strokeWidth":3}},
  {"mark":{"type":"area","color":{"gradient":"linear","x1":0,"y1":0,"x2":1,"y2":0,"stops":[{"offset":0,"color":"#d00800"},{"offset":0.3,"color":"#b84400"},{"offset":0.47,"color":"#a05f00"},{"offset":0.65,"color":"#6e7e00"},{"offset":0.83,"color":"#468f00"},{"offset":1,"color":"#149a00"}]}}},
  {"transform":[{"filter":"datum.level > datum.low && (datum.month > 0 || datum.panel == 'tl')"}],"mark":{"type":"rule","color":"black","strokeWidth":2}}
  ]},
 {"data":{"name":"notes"},"transform":[{"filter":"datum.panel == 'p4'"}],
  "layer":[
  {"transform":[{"filter":"datum.kind == 'stock'"}],"mark":{"type":"text","font":"Liberation Sans","fontWeight":"bold","fontSize":31,"color":"black","dy":3},"encoding":{"text":{"field":"label"}}},
  {"transform":[{"filter":"datum.kind == 'zero'"}],"mark":{"type":"text","font":"Liberation Sans","fontWeight":"bold","fontSize":46,"color":"black","dy":3},"encoding":{"text":{"field":"label"}}},
  {"transform":[{"filter":"datum.kind == 'money'"}],"mark":{"type":"text","font":"Liberation Sans","fontWeight":"bold","fontSize":26,"color":"#ffff00","dy":2},"encoding":{"text":{"field":"label"}}},
  {"transform":[{"filter":"datum.kind == 'year'"}],"mark":{"type":"point","shape":"M-1,0A1,0.556,0,1,1,1,0A1,0.556,0,1,1,-1,0Z","size":32400,"filled":true,"fill":"#cce9fc","stroke":"black","strokeWidth":1.6,"opacity":1}},
  {"transform":[{"filter":"datum.kind == 'year'"}],"mark":{"type":"text","font":"Liberation Sans","fontSize":46,"color":"black","dy":3},"encoding":{"text":{"field":"label"}}},
  {"transform":[{"filter":"datum.kind == 'name'"}],"mark":{"type":"text","font":"Liberation Sans","fontWeight":"bold","fontSize":26,"color":"black","dx":-141,"dy":2},"encoding":{"text":{"field":"label"}}}
  ]}
 ]},

{"encoding":{"y":{"field":"level","type":"quantitative","scale":{"domain":[0,1],"range":[1170,1110]},"axis":null}},
 "layer":[
 {"data":{"name":"shapes"},"transform":[{"filter":"datum.panel == 'tl'"}],"encoding":{"y2":{"field":"low"}},
  "layer":[
  {"mark":{"type":"area","color":"#035b79","stroke":"#035b79","strokeWidth":2.5,"strokeJoin":"round","xOffset":-33,"yOffset":-32,"y2Offset":-32}},
  {"transform":[{"filter":"datum.month == 0"}],"mark":{"type":"rule","color":"#0088b8","strokeWidth":3,"xOffset":-33,"yOffset":-32,"y2Offset":-32}},
  {"mark":{"type":"area","color":"#035b79","stroke":"#035b79","strokeWidth":2.5,"strokeJoin":"round","xOffset":-30.94,"yOffset":-30,"y2Offset":-30}},
  {"transform":[{"filter":"datum.month == 0"}],"mark":{"type":"rule","color":"#0088b8","strokeWidth":3,"xOffset":-30.94,"yOffset":-30,"y2Offset":-30}},
  {"mark":{"type":"area","color":"#035b79","stroke":"#035b79","strokeWidth":2.5,"strokeJoin":"round","xOffset":-28.88,"yOffset":-28,"y2Offset":-28}},
  {"transform":[{"filter":"datum.month == 0"}],"mark":{"type":"rule","color":"#0088b8","strokeWidth":3,"xOffset":-28.88,"yOffset":-28,"y2Offset":-28}},
  {"mark":{"type":"area","color":"#035b79","stroke":"#035b79","strokeWidth":2.5,"strokeJoin":"round","xOffset":-26.81,"yOffset":-26,"y2Offset":-26}},
  {"transform":[{"filter":"datum.month == 0"}],"mark":{"type":"rule","color":"#0088b8","strokeWidth":3,"xOffset":-26.81,"yOffset":-26,"y2Offset":-26}},
  {"mark":{"type":"area","color":"#035b79","stroke":"#035b79","strokeWidth":2.5,"strokeJoin":"round","xOffset":-24.75,"yOffset":-24,"y2Offset":-24}},
  {"transform":[{"filter":"datum.month == 0"}],"mark":{"type":"rule","color":"#0088b8","strokeWidth":3,"xOffset":-24.75,"yOffset":-24,"y2Offset":-24}},
  {"mark":{"type":"area","color":"#035b79","stroke":"#035b79","strokeWidth":2.5,"strokeJoin":"round","xOffset":-22.69,"yOffset":-22,"y2Offset":-22}},
  {"transform":[{"filter":"datum.month == 0"}],"mark":{"type":"rule","color":"#0088b8","strokeWidth":3,"xOffset":-22.69,"yOffset":-22,"y2Offset":-22}},
  {"mark":{"type":"area","color":"#035b79","stroke":"#035b79","strokeWidth":2.5,"strokeJoin":"round","xOffset":-20.63,"yOffset":-20,"y2Offset":-20}},
  {"transform":[{"filter":"datum.month == 0"}],"mark":{"type":"rule","color":"#0088b8","strokeWidth":3,"xOffset":-20.63,"yOffset":-20,"y2Offset":-20}},
  {"mark":{"type":"area","color":"#035b79","stroke":"#035b79","strokeWidth":2.5,"strokeJoin":"round","xOffset":-18.56,"yOffset":-18,"y2Offset":-18}},
  {"transform":[{"filter":"datum.month == 0"}],"mark":{"type":"rule","color":"#0088b8","strokeWidth":3,"xOffset":-18.56,"yOffset":-18,"y2Offset":-18}},
  {"mark":{"type":"area","color":"#035b79","stroke":"#035b79","strokeWidth":2.5,"strokeJoin":"round","xOffset":-16.5,"yOffset":-16,"y2Offset":-16}},
  {"transform":[{"filter":"datum.month == 0"}],"mark":{"type":"rule","color":"#0088b8","strokeWidth":3,"xOffset":-16.5,"yOffset":-16,"y2Offset":-16}},
  {"mark":{"type":"area","color":"#035b79","stroke":"#035b79","strokeWidth":2.5,"strokeJoin":"round","xOffset":-14.44,"yOffset":-14,"y2Offset":-14}},
  {"transform":[{"filter":"datum.month == 0"}],"mark":{"type":"rule","color":"#0088b8","strokeWidth":3,"xOffset":-14.44,"yOffset":-14,"y2Offset":-14}},
  {"mark":{"type":"area","color":"#035b79","stroke":"#035b79","strokeWidth":2.5,"strokeJoin":"round","xOffset":-12.38,"yOffset":-12,"y2Offset":-12}},
  {"transform":[{"filter":"datum.month == 0"}],"mark":{"type":"rule","color":"#0088b8","strokeWidth":3,"xOffset":-12.38,"yOffset":-12,"y2Offset":-12}},
  {"mark":{"type":"area","color":"#035b79","stroke":"#035b79","strokeWidth":2.5,"strokeJoin":"round","xOffset":-10.31,"yOffset":-10,"y2Offset":-10}},
  {"transform":[{"filter":"datum.month == 0"}],"mark":{"type":"rule","color":"#0088b8","strokeWidth":3,"xOffset":-10.31,"yOffset":-10,"y2Offset":-10}},
  {"mark":{"type":"area","color":"#035b79","stroke":"#035b79","strokeWidth":2.5,"strokeJoin":"round","xOffset":-8.25,"yOffset":-8,"y2Offset":-8}},
  {"transform":[{"filter":"datum.month == 0"}],"mark":{"type":"rule","color":"#0088b8","strokeWidth":3,"xOffset":-8.25,"yOffset":-8,"y2Offset":-8}},
  {"mark":{"type":"area","color":"#035b79","stroke":"#035b79","strokeWidth":2.5,"strokeJoin":"round","xOffset":-6.19,"yOffset":-6,"y2Offset":-6}},
  {"transform":[{"filter":"datum.month == 0"}],"mark":{"type":"rule","color":"#0088b8","strokeWidth":3,"xOffset":-6.19,"yOffset":-6,"y2Offset":-6}},
  {"mark":{"type":"area","color":"#035b79","stroke":"#035b79","strokeWidth":2.5,"strokeJoin":"round","xOffset":-4.13,"yOffset":-4,"y2Offset":-4}},
  {"transform":[{"filter":"datum.month == 0"}],"mark":{"type":"rule","color":"#0088b8","strokeWidth":3,"xOffset":-4.13,"yOffset":-4,"y2Offset":-4}},
  {"mark":{"type":"area","color":"#035b79","stroke":"#035b79","strokeWidth":2.5,"strokeJoin":"round","xOffset":-2.06,"yOffset":-2,"y2Offset":-2}},
  {"transform":[{"filter":"datum.month == 0"}],"mark":{"type":"rule","color":"#0088b8","strokeWidth":3,"xOffset":-2.06,"yOffset":-2,"y2Offset":-2}},
  {"transform":[{"filter":"datum.month == 0"}],"mark":{"type":"rule","color":"#0088b8","strokeWidth":3}},
  {"mark":{"type":"area","color":"#00739b"}},
  {"transform":[{"filter":"datum.level > datum.low && (datum.month > 0 || datum.panel == 'tl')"}],"mark":{"type":"rule","color":"black","strokeWidth":2.5}}
  ]},
 {"data":{"name":"notes"},"transform":[{"filter":"datum.panel == 'tl'"}],
  "layer":[
  {"transform":[{"filter":"datum.kind == 'date'"}],"mark":{"type":"text","font":"Liberation Sans","fontWeight":"bold","fontSize":31,"color":"#ffff00","dy":3},"encoding":{"text":{"field":"label"}}},
  {"transform":[{"filter":"datum.kind == 'tname'"}],"mark":{"type":"text","font":"Liberation Sans","fontWeight":"bold","fontSize":31,"color":"black","dx":-114,"dy":3},"encoding":{"text":{"field":"label"}}}
  ]}
 ]}
]
}
